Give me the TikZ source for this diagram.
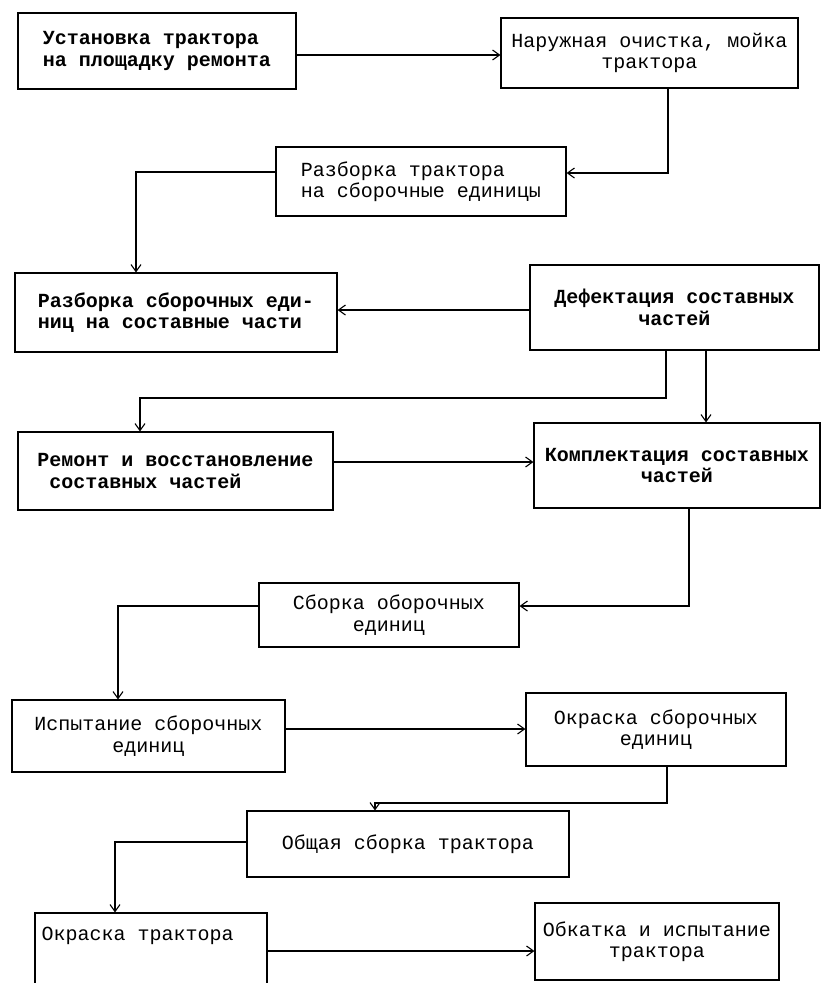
\documentclass[tikz,border=0pt]{standalone}
\usepackage{fontspec}
\setmainfont{Liberation Mono}
\usetikzlibrary{arrows.meta}
\tikzset{
  box/.style={draw, line width=1.1pt, inner sep=2pt, font=\fontsize{20}{21.5}\selectfont},
  boldbox/.style={box, font=\fontsize{20}{21.5}\selectfont\bfseries},
  arr/.style={line width=1.1pt, -{Straight Barb[length=7pt,width=10pt,line width=1.1pt]}},
}
\begin{document}
\begin{tikzpicture}[x=1pt,y=-1pt]
\useasboundingbox (0,0) rectangle (822,983);
\node[boldbox, minimum width=278pt, minimum height=76pt, align=left] (b1) at (157,51) {Установка трактора\\на площадку ремонта};
\node[box, minimum width=297pt, minimum height=70pt, align=center] (b2) at (649.5,53) {Наружная очистка, мойка\\трактора};
\node[box, minimum width=290pt, minimum height=69pt, align=left] (b3) at (421,181.5) {Разборка трактора\\на сборочные единицы};
\node[boldbox, minimum width=322pt, minimum height=79pt, align=left] (b4) at (176,312.5) {Разборка сборочных еди-\\ниц на составные части};
\node[boldbox, minimum width=289pt, minimum height=85pt, align=center] (b5) at (674.5,307.5) {Дефектация составных\\частей};
\node[boldbox, minimum width=315pt, minimum height=78pt, align=left] (b6) at (175.5,471) {Ремонт и восстановление\\\hphantom{x}составных частей};
\node[boldbox, minimum width=286pt, minimum height=85pt, align=center] (b7) at (677,465.5) {Комплектация составных\\частей};
\node[box, minimum width=260pt, minimum height=64pt, align=center] (b8) at (389,615) {Сборка оборочных\\единиц};
\node[box, minimum width=273pt, minimum height=72pt, align=center] (b9) at (148.5,736) {Испытание сборочных\\единиц};
\node[box, minimum width=260pt, minimum height=73pt, align=center] (b10) at (656,729.5) {Окраска сборочных\\единиц};
\node[box, minimum width=322pt, minimum height=66pt, align=center] (b11) at (408,844) {Общая сборка трактора};
\node[box, minimum width=232pt, minimum height=90pt] (b12) at (151,958) {};
\node[anchor=north west, inner sep=0pt, font=\fontsize{20}{21.5}\selectfont] (t12) at ([shift={(7,14)}]b12.north west) {Окраска трактора};
\node[box, minimum width=244pt, minimum height=77pt, align=center] (b13) at (657,941.5) {Обкатка и испытание\\трактора};

\draw[arr] (b1.east |- 0,55) -- (b2.west |- 0,55);
\draw[arr] (b2.south -| 668,0) |- (b3.east |- 0,173);
\draw[arr] (b3.west |- 0,172) -| (b4.north -| 136,0);
\draw[arr] (b5.west |- 0,310) -- (b4.east |- 0,310);
\draw[arr] (b5.south -| 666,0) |- (140,398) -- (b6.north -| 140,0);
\draw[arr] (b5.south -| 706,0) -- (b7.north -| 706,0);
\draw[arr] (b6.east |- 0,462) -- (b7.west |- 0,462);
\draw[arr] (b7.south -| 689,0) |- (b8.east |- 0,606);
\draw[arr] (b8.west |- 0,606) -| (b9.north -| 118,0);
\draw[arr] (b9.east |- 0,729) -- (b10.west |- 0,729);
\draw[arr] (b10.south -| 667,0) |- (375,803) -- (b11.north -| 375,0);
\draw[arr] (b11.west |- 0,842) -| (b12.north -| 115,0);
\draw[arr] (b12.east |- 0,951) -- (b13.west |- 0,951);
\end{tikzpicture}
\end{document}
